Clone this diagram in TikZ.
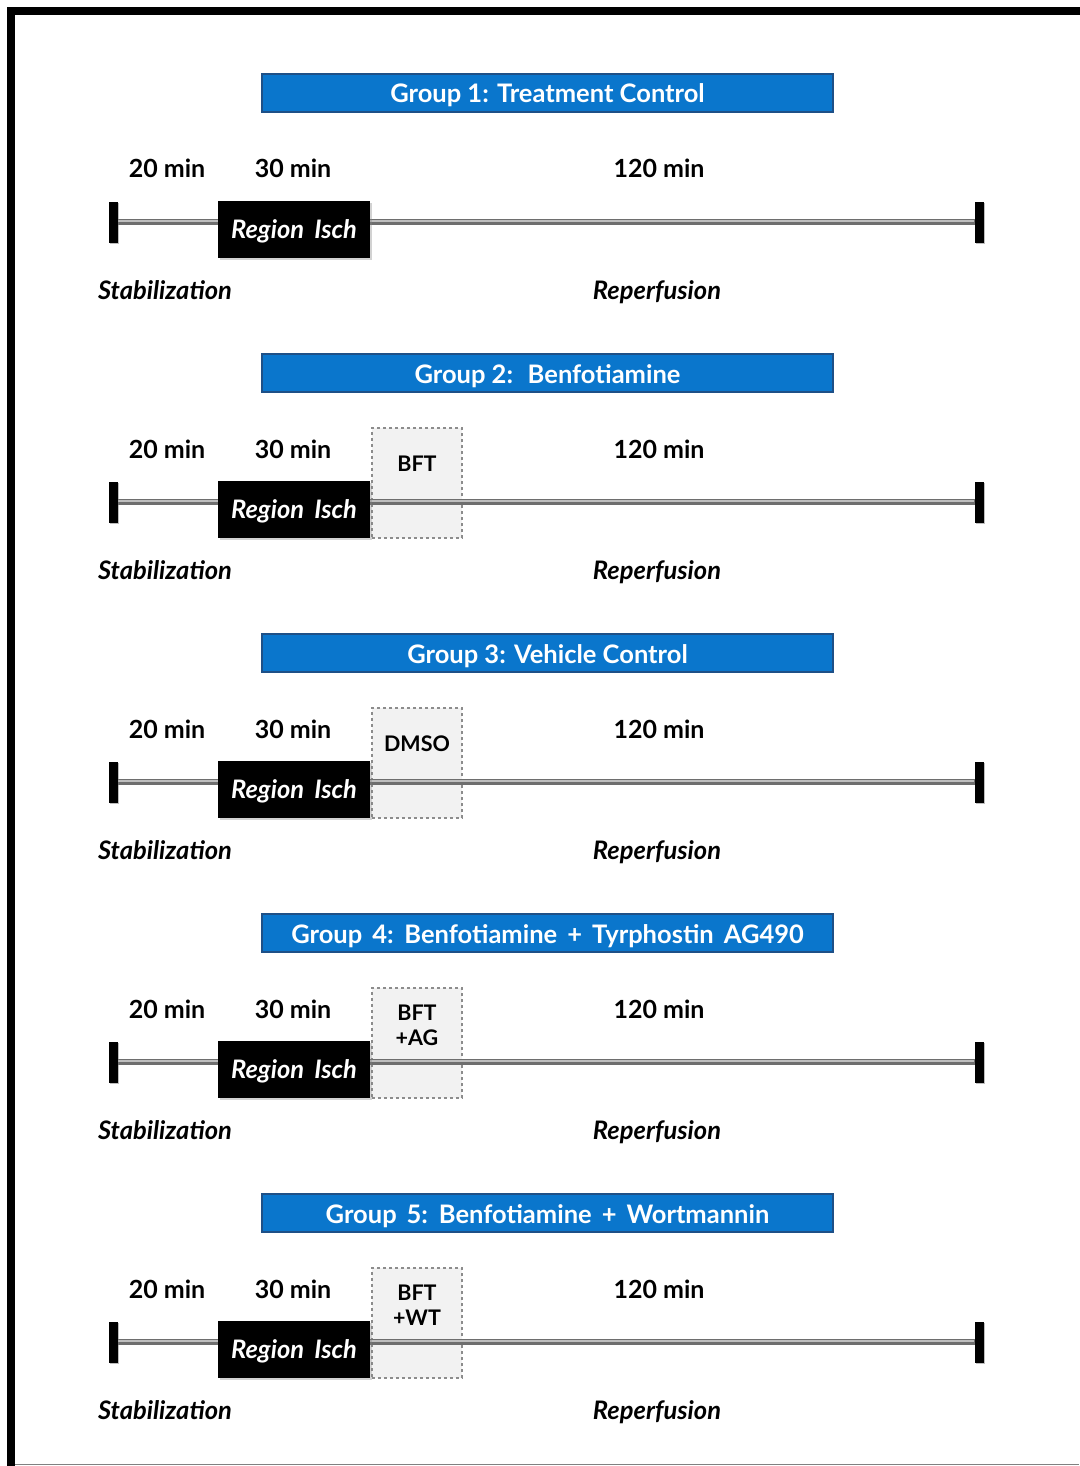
\documentclass[tikz,border=0pt]{standalone}
\usepackage{fontspec}
\setmainfont{Lato}
\usetikzlibrary{shadows,calc}
\definecolor{hdrblue}{RGB}{10,118,204}
\definecolor{hdredge}{RGB}{30,80,135}
\definecolor{drugfill}{RGB}{242,242,242}
\definecolor{dotgray}{RGB}{140,140,140}
\definecolor{linedark}{RGB}{110,110,110}
\definecolor{linelight}{RGB}{190,190,190}
\tikzset{
  hdr/.style={fill=hdrblue, draw=hdredge, line width=1.2pt, minimum width=571pt, minimum height=38pt,
    inner sep=0pt},
  hdrtxt/.style={anchor=base, inner sep=0pt, text=white, font=\bfseries\fontsize{25.5}{28}\selectfont},
  ischbox/.style={fill=black, minimum width=152pt, minimum height=57pt, inner sep=0pt, text=white,
    text depth=0pt, font=\bfseries\itshape\fontsize{25.5}{28}\selectfont,
    drop shadow={opacity=0.35, shadow xshift=2pt, shadow yshift=-2pt}},
  capbar/.style={fill=black, minimum width=9pt, minimum height=41pt, inner sep=0pt,
    drop shadow={opacity=0.3, shadow xshift=1.5pt, shadow yshift=-1.5pt}},
  drugbox/.style={fill=drugfill, draw=dotgray, line width=2.8pt, dash pattern=on 2.8pt off 3.2pt,
    minimum width=90pt, minimum height=110pt, inner sep=0pt},
  drugtxt/.style={anchor=base, font=\bfseries\fontsize{21.5}{25}\selectfont, align=center, inner sep=0pt},
  timelbl/.style={anchor=base, font=\bfseries\fontsize{25}{28}\selectfont, inner sep=0pt},
  phaselbl/.style={anchor=base, font=\bfseries\itshape\fontsize{25.5}{28}\selectfont, inner sep=0pt},
  tlbase/.style={draw=linedark, line width=6pt},
  tltop/.style={draw=linelight, line width=1.8pt, transform canvas={yshift=1.2pt}},
}
% #1 offset, #2 id, #3 title
\newcommand\tlgroup[3]{%
  \node[hdr] (#2hdr) at (547.5,93+#1) {};
  \node[hdrtxt] (#2hdrtxt) at (547.5,103+#1) {#3};
  \node[timelbl] (#2t20) at (167,178+#1) {20 min};
  \node[timelbl] (#2t30) at (293,178+#1) {30 min};
  \node[timelbl] (#2t120) at (659,178+#1) {120 min};
  \node[phaselbl] (#2stab) at (165,299+#1) {Stabilization};
  \node[phaselbl] (#2rep) at (657,299+#1) {Reperfusion};
}
% #1 offset, #2 id
\newcommand\tlline[2]{%
  \node[capbar] (#2capL) at (113,222+#1) {};
  \node[capbar] (#2capR) at (979,222+#1) {};
  \draw[tlbase] (#2capL.center) -- (#2capL.center -| #2capR.center);
  \draw[tltop] (#2capL.east) -- (#2capL.east -| #2capR.west);
  \node[capbar] (#2capLb) at (113,222+#1) {};
  \node[capbar] (#2capRb) at (979,222+#1) {};
  \node[ischbox] (#2isch) at (294,229.5+#1) {Region\hspace{0.4em}Isch};
}
\begin{document}
\begin{tikzpicture}[x=1pt,y=-1pt]
\useasboundingbox (0,0) rectangle (1079,1466);
\fill[white] (0,0) rectangle (1079,1466);
\draw[line width=7.5pt] (11,1470) -- (11,11) -- (1083,11);
\draw[draw=gray, line width=1.5pt] (15,1464.5) -- (1079,1464.5);
% Group 1
\tlgroup{0}{ga}{Group 1: Treatment Control}
\tlline{0}{ga}
% Group 2
\tlgroup{280}{gb}{Group 2:\hspace{0.25em} Benfotiamine}
\node[drugbox] (gbdrug) at (417,483) {};
\node[drugtxt] (gbdrugtxt) at (417,471) {BFT};
\tlline{280}{gb}
% Group 3
\tlgroup{560}{gc}{Group 3: Vehicle Control}
\node[drugbox] (gcdrug) at (417,763) {};
\node[drugtxt] (gcdrugtxt) at (417,751) {DMSO};
\tlline{560}{gc}
% Group 4
\tlgroup{840}{gd}{Group\hspace{0.15em} 4:\hspace{0.1em} Benfotiamine\hspace{0.15em} +\hspace{0.15em} Tyrphostin\hspace{0.15em} AG490}
\node[drugbox] (gddrug) at (417,1043) {};
\node[drugtxt] (gddrugtxt1) at (417,1020) {BFT};
\node[drugtxt] (gddrugtxt2) at (417,1045) {+AG};
\tlline{840}{gd}
% Group 5
\tlgroup{1120}{ge}{Group\hspace{0.15em} 5:\hspace{0.1em} Benfotiamine\hspace{0.15em} +\hspace{0.15em} Wortmannin}
\node[drugbox] (gedrug) at (417,1323) {};
\node[drugtxt] (gedrugtxt1) at (417,1300) {BFT};
\node[drugtxt] (gedrugtxt2) at (417,1325) {+WT};
\tlline{1120}{ge}
\end{tikzpicture}
\end{document}
